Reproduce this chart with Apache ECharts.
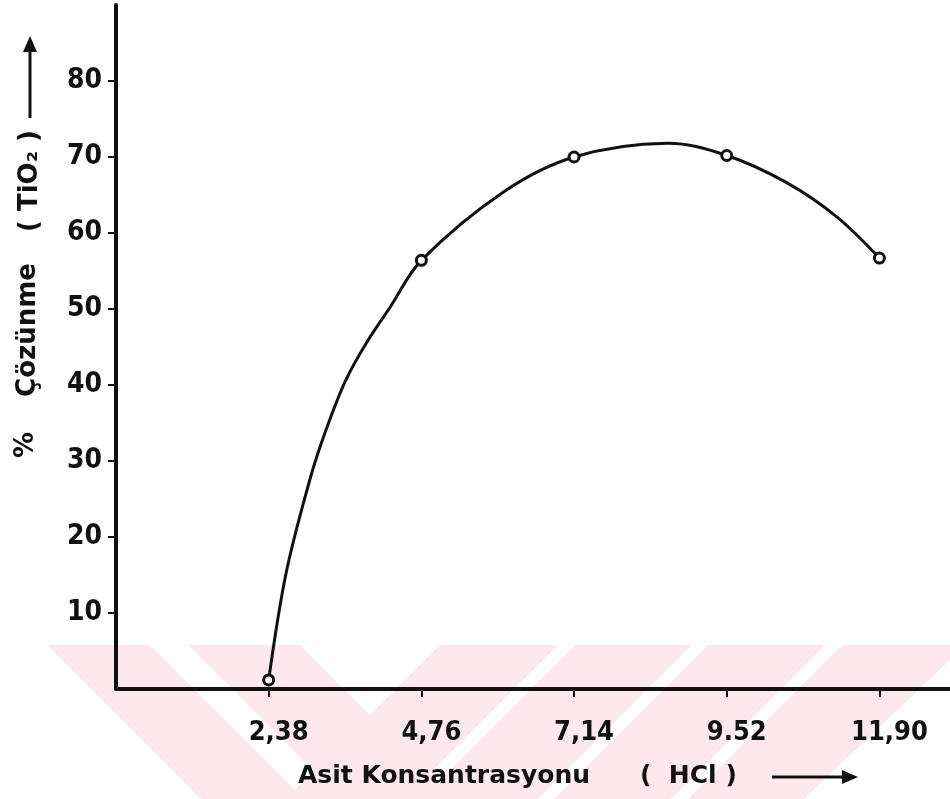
<!DOCTYPE html>
<html>
<head>
<meta charset="utf-8">
<script src="https://cdn.jsdelivr.net/npm/echarts@6.0.0/dist/echarts.min.js"></script>
<style>
  html, body { margin: 0; padding: 0; background: #fff; }
  #chart { width: 950px; height: 799px; }
</style>
</head>
<body>
<div id="chart"></div>
<script>
// measured points: acid concentration (HCl) vs % dissolution of TiO2
var hclValues = [2.38, 4.76, 7.14, 9.52, 11.90];
var dissolved = [1.2, 56.4, 70.0, 70.2, 56.7];
var xTickLabels = ['2,38', '4,76', '7,14', '9.52', '11,90'];
var yTicks = [10, 20, 30, 40, 50, 60, 70, 80];

// hand drawn fitted curve
var curveX = [2.38, 2.65, 3.02, 3.27, 3.58, 3.90, 4.27, 4.76, 6.04, 7.14, 8.59, 9.52, 10.46, 11.24, 11.90];
var curveY = [1.2, 15.2, 27.5, 34.0, 40.6, 45.5, 50.2, 56.4, 65.4, 70.0, 71.8, 70.2, 66.6, 62.1, 56.7];

var chartDom = document.getElementById('chart');
var chart = echarts.init(chartDom, null, { renderer: 'canvas' });

var ink = '#111';
var pink = '#fde9ed';
// pale watermark stripes along the bottom of the page
function stripe(pts) {
    return { type: 'polygon', z: -10, silent: true, shape: { points: pts }, style: { fill: pink } };
}
function label(txt, x, y, rot, size) {
    return {
        type: 'text', x: x, y: y, rotation: rot || 0,
        style: {
            text: txt,
            font: 'bold ' + (size || 24) + 'px "DejaVu Sans"',
            fill: ink,
            align: rot ? 'center' : 'left',
            verticalAlign: 'middle'
        }
    };
}

var option = {
    backgroundColor: '#ffffff',
    animation: false,
    grid: { left: 116, right: 0, top: 5, bottom: 110 },
    xAxis: {
        type: 'value',
        min: 0,
        max: 13,
        splitLine: { show: false },
        axisLine: { show: true, lineStyle: { color: ink, width: 4 } },
        axisTick: {
            show: true, length: 8,
            customValues: hclValues,
            lineStyle: { color: ink, width: 2 }
        },
        axisLabel: {
            customValues: hclValues,
            margin: 30,
            padding: [0, 0, 0, 20],
            color: ink,
            fontFamily: 'DejaVu Sans Condensed',
            fontWeight: 'bold',
            fontSize: 27,
            formatter: function (v) {
                var i = hclValues.indexOf(v);
                return i >= 0 ? xTickLabels[i] : '';
            }
        }
    },
    yAxis: {
        type: 'value',
        min: 0,
        max: 90,
        interval: 10,
        splitLine: { show: false },
        axisLine: { show: true, lineStyle: { color: ink, width: 4 } },
        axisTick: {
            show: true, length: 8,
            customValues: yTicks,
            lineStyle: { color: ink, width: 2 }
        },
        axisLabel: {
            customValues: yTicks,
            margin: 14,
            color: ink,
            fontFamily: 'DejaVu Sans Condensed',
            fontWeight: 'bold',
            fontSize: 28
        }
    },
    graphic: [
        stripe([[47, 645], [150, 645], [304, 799], [201, 799]]),
        stripe([[188, 645], [300, 645], [454, 799], [342, 799]]),
        stripe([[440, 645], [558, 645], [404, 799], [286, 799]]),
        stripe([[575, 645], [692, 645], [538, 799], [421, 799]]),
        stripe([[708, 645], [825, 645], [671, 799], [554, 799]]),
        stripe([[842, 645], [950, 645], [950, 660], [804, 799], [688, 799]]),
        // y axis title, rotated
        label('%', 26, 445, Math.PI / 2, 26),
        label('Çözünme', 28, 330, Math.PI / 2, 26),
        label('( TiO\u2082 )', 30, 181, Math.PI / 2, 26),
        { type: 'line', shape: { x1: 30, y1: 118, x2: 30, y2: 46 }, style: { stroke: ink, lineWidth: 3 } },
        { type: 'polygon', shape: { points: [[30, 36], [23, 52], [37, 52]] }, style: { fill: ink } },
        // x axis title
        label('Asit Konsantrasyonu', 298, 776, 0, 25),
        label('(  HCl )', 640, 776, 0, 25),
        { type: 'line', shape: { x1: 772, y1: 777, x2: 845, y2: 777 }, style: { stroke: ink, lineWidth: 3 } },
        { type: 'polygon', shape: { points: [[858, 777], [842, 770], [842, 784]] }, style: { fill: ink } }
    ],
    series: [
        {
            // smooth curve through the read points, placed by the axes
            type: 'custom',
            data: curveX.map(function (x, i) { return [x, curveY[i]]; }),
            encode: { x: 0, y: 1 },
            renderItem: function (params, api) {
                if (params.dataIndex !== 0) return null;
                var pts = curveX.map(function (x, i) { return api.coord([x, curveY[i]]); });
                return {
                    type: 'polyline',
                    shape: { points: pts, smooth: 0.35 },
                    style: { stroke: ink, lineWidth: 3, fill: null }
                };
            },
            z: 4
        },
        {
            type: 'scatter',
            data: hclValues.map(function (x, i) { return [x, dissolved[i]]; }),
            symbol: 'circle',
            symbolSize: 10,
            itemStyle: { color: '#fff', borderColor: ink, borderWidth: 3, opacity: 1 },
            z: 5
        }
    ]
};

option && chart.setOption(option);
</script>
</body>
</html>
